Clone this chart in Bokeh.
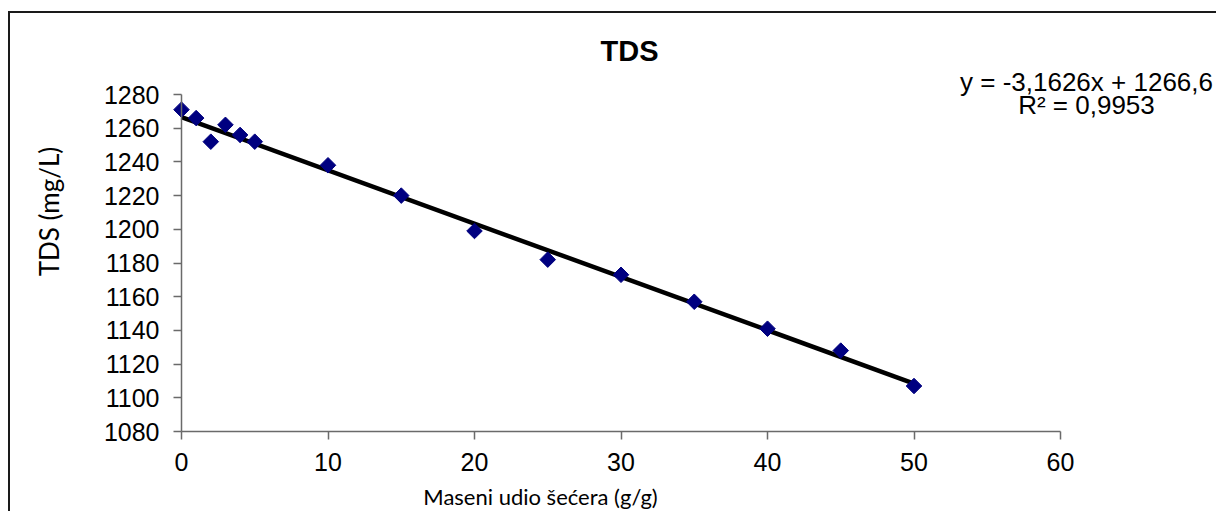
import numpy as np
from bokeh.plotting import figure
from bokeh.models import Range1d, SingleIntervalTicker, Label, LinearAxis
from bokeh.embed import file_html
from bokeh.resources import INLINE

# data
sugar_fraction = [0, 1, 2, 3, 4, 5, 10, 15, 20, 25, 30, 35, 40, 45, 50]
tds_values = [1271, 1266, 1252, 1262, 1256, 1252, 1238, 1220, 1199, 1182, 1173, 1157, 1141, 1128, 1107]
trend_slope = -3.1626
trend_intercept = 1266.6
r_squared = 0.9953
x_axis_range = (0, 60)
y_axis_range = (1080, 1280)
x_ticks_interval = 10
y_ticks_interval = 20

# layout (page pixels): canvas origin and where the axes sit
W, H = 1208, 500
CANVAS_X0, CANVAS_Y0 = 10, 13
AX_LEFT, AX_RIGHT, AX_TOP, AX_BOTTOM = 181, 1060, 94, 431
sx = (AX_RIGHT - AX_LEFT) / (x_axis_range[1] - x_axis_range[0])
sy = (AX_BOTTOM - AX_TOP) / (y_axis_range[1] - y_axis_range[0])
x_start = x_axis_range[0] - (AX_LEFT - CANVAS_X0) / sx
x_end = x_axis_range[1] + (CANVAS_X0 + W - AX_RIGHT) / sx
y_end = y_axis_range[1] + (AX_TOP - CANVAS_Y0) / sy
y_start = y_axis_range[0] - (CANVAS_Y0 + H - AX_BOTTOM) / sy


def px_x(px):
    return x_axis_range[0] + (px - AX_LEFT) / sx


def px_y(py):
    return y_axis_range[0] + (AX_BOTTOM - py) / sy


p = figure(width=W, height=H, output_backend="svg", toolbar_location=None,
           x_range=Range1d(x_start, x_end), y_range=Range1d(y_start, y_end),
           x_axis_location=None, y_axis_location=None,
           min_border=0, min_border_left=0, min_border_right=0,
           min_border_top=0, min_border_bottom=0)
p.styles = {"border-top": "2px solid #1a1a1a", "border-left": "2px solid #1a1a1a",
            "margin": "11px 0 0 8px"}
p.outline_line_color = None
p.grid.visible = False

xaxis = LinearAxis(fixed_location=y_axis_range[0], bounds=x_axis_range,
                   ticker=SingleIntervalTicker(interval=x_ticks_interval))
yaxis = LinearAxis(fixed_location=x_axis_range[0], bounds=y_axis_range,
                   ticker=SingleIntervalTicker(interval=y_ticks_interval))
for ax in (xaxis, yaxis):
    ax.minor_tick_line_color = None
    ax.axis_line_color = "#6a6a6a"
    ax.axis_line_width = 1.5
    ax.major_tick_line_color = "#6a6a6a"
    ax.major_tick_line_width = 1.5
    ax.major_tick_in = 0
    ax.major_tick_out = 8
    ax.major_label_text_font = "Liberation Sans"
    ax.major_label_text_font_size = "25px"
    ax.major_label_text_color = "#000000"
xaxis.major_label_standoff = 13
yaxis.major_label_standoff = 14
p.add_layout(xaxis, "below")
p.add_layout(yaxis, "left")

# trend line from fit parameters
xs = np.array([sugar_fraction[0], sugar_fraction[-1]], dtype=float)
p.line(xs, trend_slope * xs + trend_intercept, line_color="#000000", line_width=4.5)

p.scatter(sugar_fraction, tds_values, marker="square", angle=np.pi / 4, size=11,
          fill_color="#000080", line_color="#000080")

p.add_layout(Label(x=px_x(629), y=px_y(50), text="TDS", text_align="center",
                   text_baseline="alphabetic", text_font="Liberation Sans",
                   text_font_size="29px", text_font_style="bold", text_color="#000000"))

eq1 = "y = -" + f"{abs(trend_slope):.4f}".replace(".", ",") + "x + " + f"{trend_intercept:.1f}".replace(".", ",")
eq2 = "R² = " + f"{r_squared:.4f}".replace(".", ",")
for txt, base in ((eq1, 81), (eq2, 104)):
    p.add_layout(Label(x=px_x(1086), y=px_y(base), text=txt,
                       text_align="center", text_baseline="alphabetic",
                       text_font="Liberation Sans", text_font_size="26px", text_color="#000000"))

p.add_layout(Label(x=px_x(540), y=px_y(496), text="Maseni udio šećera (g/g)",
                   text_align="center", text_baseline="alphabetic", text_font="Lato",
                   text_font_size="22px", text_color="#000000"))
p.add_layout(Label(x=px_x(48), y=px_y(211), text="TDS (mg/L)", angle=np.pi / 2,
                   text_align="center", text_baseline="alphabetic", text_font="Lato",
                   text_font_size="26px", text_color="#000000"))

open("out.html", "w").write(file_html(p, INLINE))
